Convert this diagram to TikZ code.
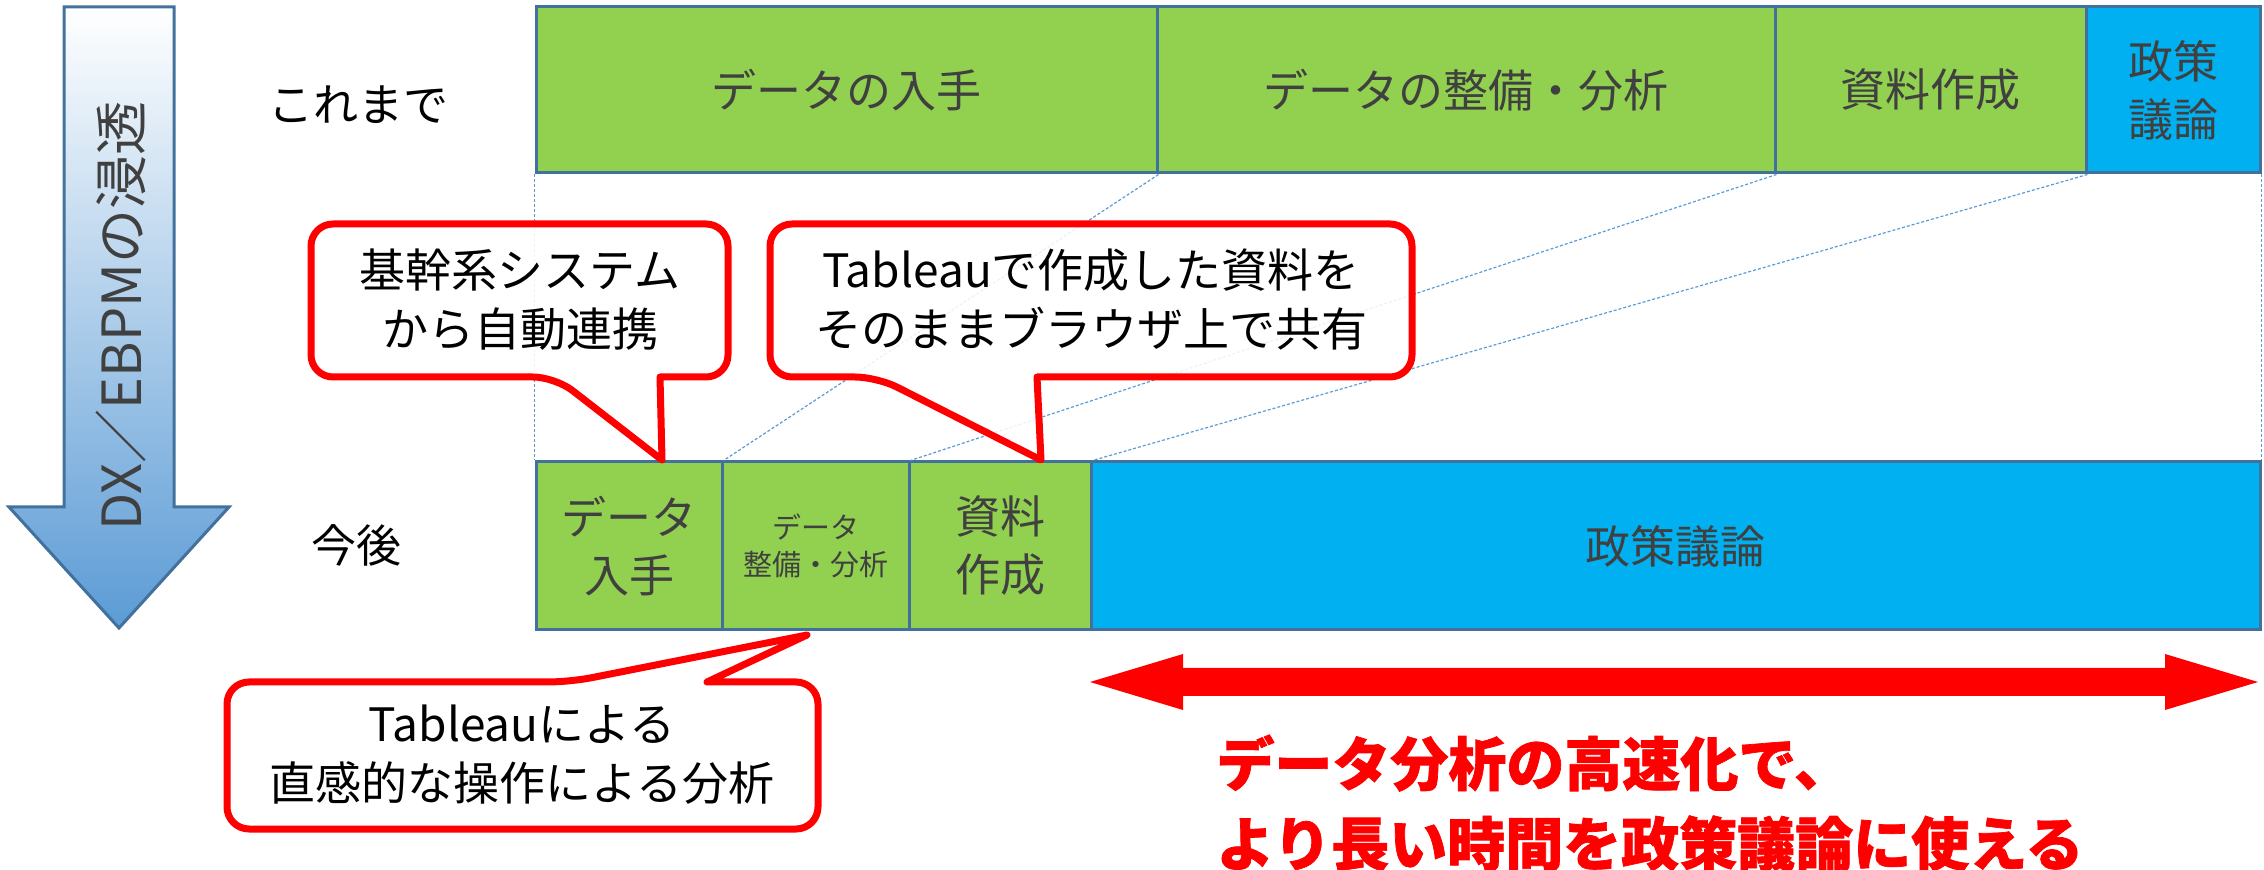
\documentclass[tikz,border=0pt]{standalone}
\usepackage{fontspec}
\setmainfont{Noto Sans CJK JP}
\newfontfamily\redfont[BoldFeatures={FakeBold=1.2}]{Noto Sans CJK JP}
\usetikzlibrary{fit}
\definecolor{boxgreen}{HTML}{92D050}
\definecolor{boxblue}{HTML}{00B0F0}
\definecolor{boxborder}{HTML}{41719C}
\definecolor{txtgray}{HTML}{404040}
\definecolor{dashblue}{HTML}{5B9BD5}
\definecolor{arrowblue}{HTML}{5B9BD5}
\definecolor{bigred}{HTML}{FF0000}
\begin{document}
\begin{tikzpicture}[x=0.5pt,y=-0.5pt,
  box/.style={draw=boxborder, line width=1.5pt, inner sep=0pt},
  gbox/.style={box, fill=boxgreen},
  bbox/.style={box, fill=boxblue},
  btxt/.style={text=txtgray, font=\fontsize{22.5}{29}\selectfont, align=center, inner sep=0pt},
  stxt/.style={text=txtgray, font=\fontsize{14.5}{18.5}\selectfont, align=center, inner sep=0pt},
  conn/.style={draw=dashblue, line width=0.6pt, dash pattern=on 1.5pt off 1pt},
  callout/.style={draw=bigred, line width=3.5pt, fill=white, fill opacity=0.88, line join=round},
  ctxt/.style={text=black, font=\fontsize{23}{29.5}\selectfont, align=center, inner sep=0pt},
  lbl/.style={text=black, font=\fontsize{22.5}{27}\selectfont, inner sep=0pt},
]
\useasboundingbox (0,0) rectangle (2264,870);

% left gradient arrow
\shadedraw[top color=white, bottom color=arrowblue, draw=boxborder, line width=1.5pt, line join=miter]
  (64,7) -- (174,7) -- (174,507) -- (229,507) -- (119,628) -- (9,507) -- (64,507) -- cycle;
\node[rotate=90, text=txtgray, font=\fontsize{27}{30}\selectfont, inner sep=0pt] (dx) at (121,316) {DX／EBPMの浸透};

% row labels
\node[lbl] (l1) at (358,105) {これまで};
\node[lbl] (l2) at (356,545) {今後};

% top row
\node[gbox, fit={(536,7) (1157,173)}] (t1) {};
\node[gbox, fit={(1157,7) (1775,173)}] (t2) {};
\node[gbox, fit={(1775,7) (2086,173)}] (t3) {};
\node[bbox, fit={(2086,7) (2260,173)}] (t4) {};
\node[btxt] at (t1.center) {データの入手};
\node[btxt] at (t2.center) {データの整備・分析};
\node[btxt] at (t3.center) {資料作成};
\node[btxt] at (t4.center) {政策\\議論};

% bottom row
\node[gbox, fit={(536,462) (722,630)}] (b1) {};
\node[gbox, fit={(722,462) (909,630)}] (b2) {};
\node[gbox, fit={(909,462) (1091,630)}] (b3) {};
\node[bbox, fit={(1091,462) (2260,630)}] (b4) {};
\node[btxt] at (b1.center) {データ\\入手};
\node[stxt] at (b2.center) {データ\\整備・分析};
\node[btxt] at (b3.center) {資料\\作成};
\node[btxt] at (b4.center) {政策議論};

% dashed connectors
\draw[conn] (t1.south west) -- (b1.north west);
\draw[conn] (t1.south east) -- (b1.north east);
\draw[conn] (t2.south east) -- (b2.north east);
\draw[conn] (t3.south east) -- (b3.north east);
\draw[conn] (t4.south east) -- (b4.north east);

% callout 1
\draw[callout] (660,377) [rounded corners=11pt] -- (728,377) -- (728,224) -- (311,224) -- (311,377) -- (555,377) [sharp corners] -- (662,460) -- cycle;
\node[ctxt] (c1) at (520,300) {基幹系システム\\から自動連携};

% callout 2
\draw[callout] (1037,377) [rounded corners=11pt] -- (1412,377) -- (1412,224) -- (770,224) -- (770,377) -- (877,377) [sharp corners] -- (1041,460) -- cycle;
\node[ctxt] (c2) at (1091,300) {Tableauで作成した資料を\\そのままブラウザ上で共有};

% callout 3
\draw[callout] (707,682) [rounded corners=11pt] -- (818,682) -- (818,829) -- (227,829) -- (227,682) -- (570,682) [sharp corners] -- (807,635) -- cycle;
\node[ctxt] (c3) at (522,755) {Tableauによる\\直感的な操作による分析};

% red double arrow
\fill[bigred] (1090,682) -- (1183,654) -- (1183,668) -- (2165,668) -- (2165,654) -- (2258,682)
  -- (2165,710) -- (2165,696) -- (1183,696) -- (1183,710) -- cycle;

% red message
\node[anchor=west, text=bigred, font=\redfont\fontsize{29}{40}\selectfont\bfseries, align=left, inner sep=0pt] (msg) at (1216,803)
  {データ分析の高速化で、\\より長い時間を政策議論に使える};
\end{tikzpicture}
\end{document}
